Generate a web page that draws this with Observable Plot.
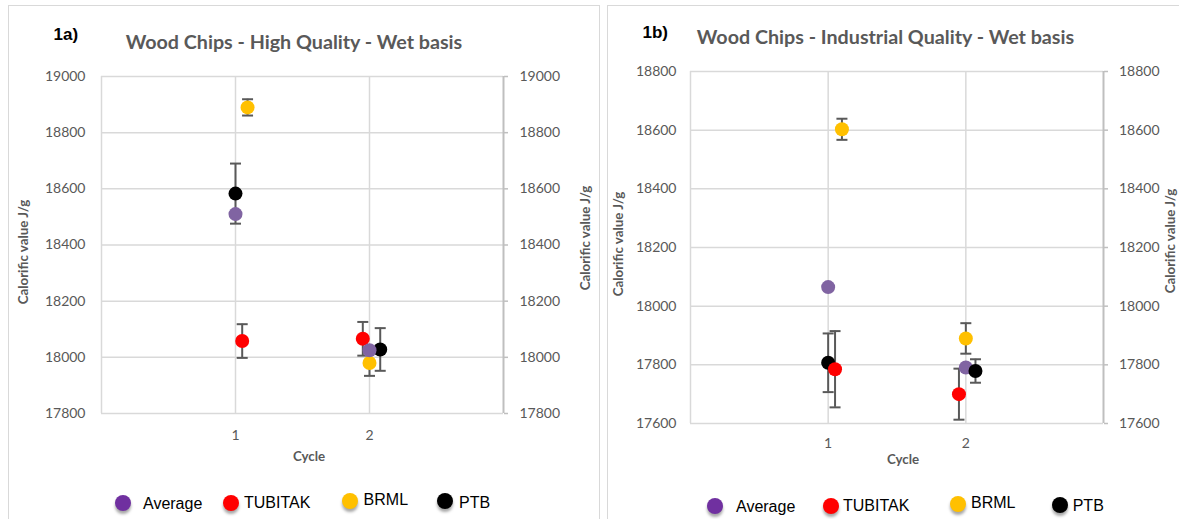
<!DOCTYPE html>
<html>
<head>
<meta charset="utf-8">
<script src="https://cdn.jsdelivr.net/npm/d3@7"></script>
<script src="https://cdn.jsdelivr.net/npm/@observablehq/plot@0.6"></script>
<style>
  html, body { margin: 0; padding: 0; background: #fff; }
  #root { position: relative; width: 1179px; height: 519px; overflow: hidden; background: #fff; }
  .panel { position: absolute; border: 1.5px solid #d9d9d9; box-sizing: border-box; }
  .t { position: absolute; white-space: nowrap; line-height: 1; }
  .c { transform: translate(-50%, -50%); }
  .rot { transform: translate(-50%, -50%) rotate(-90deg); }
  .panelTag { font-family: "Liberation Sans", Arial, sans-serif; font-weight: bold; font-size: 17px; color: #000; transform: translateY(-50%); }
  .title { font-family: Lato, sans-serif; font-weight: bold; font-size: 19.7px; color: #595959; }
  .axlab { font-family: Lato, sans-serif; font-weight: bold; font-size: 13.3px; color: #595959; }
  .legtext { font-family: "Liberation Sans", Arial, sans-serif; font-size: 16px; color: #000; transform: translateY(-50%); }
  .legdot { position: absolute; width: 16px; height: 16px; border-radius: 50%; transform: translate(-50%, -50%); box-shadow: 0 3px 3px rgba(0,0,0,0.35); }
  svg { position: absolute; }
</style>
</head>
<body>
<div id="root"></div>
<script>
// ---------- shared ----------
const seriesNames = ["Average", "TUBITAK", "BRML", "PTB"];
const seriesColors = ["#8064a2", "#ff0000", "#ffc000", "#000000"];
const legendColors = ["#7030a0", "#ff0000", "#ffc000", "#000000"];
const cycleTicks = [1, 2];
const cycleDomain = [0, 3];
const yLabel = "Calorific value J/g";
const xLabel = "Cycle";

// ---------- 1a) Wood Chips - High Quality - Wet basis ----------
const hqTag = "1a)";
const hqTitle = "Wood Chips - High Quality - Wet basis";
const hqTicks = [17800, 18000, 18200, 18400, 18600, 18800, 19000];
const hqAverageX = [1, 2];
const hqAverage = [18510, 18025];
const hqTubitakX = [1.05, 1.95];
const hqTubitak = [18058, 18066];
const hqTubitakU = [60, 60];
const hqBrmlX = [1.09, 2];
const hqBrml = [18890, 17980];
const hqBrmlU = [29, 46];
const hqPtbX = [1, 2.08];
const hqPtb = [18583, 18028];
const hqPtbU = [107, 76];

// ---------- 1b) Wood Chips - Industrial Quality - Wet basis ----------
const iqTag = "1b)";
const iqTitle = "Wood Chips - Industrial Quality - Wet basis";
const iqTicks = [17600, 17800, 18000, 18200, 18400, 18600, 18800];
const iqAverageX = [1, 2];
const iqAverage = [18065, 17791];
const iqTubitakX = [1.05, 1.95];
const iqTubitak = [17785, 17700];
const iqTubitakU = [130, 87];
const iqBrmlX = [1.1, 2];
const iqBrml = [18603, 17890];
const iqBrmlU = [36, 52];
const iqPtbX = [1, 2.07];
const iqPtb = [17807, 17779];
const iqPtbU = [100, 40];

// ---------- helpers ----------
const capSymbol = {
  draw(ctx, size) {
    const w = Math.sqrt(size / Math.PI);
    ctx.moveTo(-w, 0);
    ctx.lineTo(w, 0);
  }
};

function buildRows(series) {
  const pts = [], errs = [];
  for (const s of series) {
    s.x.forEach((x, i) => {
      const d = { name: s.name, x, v: s.v[i], u: s.u ? s.u[i] : null, color: s.color };
      pts.push(d);
      if (d.u != null) errs.push(d);
    });
  }
  return { pts, errs };
}

function chart(cfg) {
  const { pts, errs } = buildRows(cfg.series);
  const ticks = cfg.ticks;
  return Plot.plot({
    width: cfg.width,
    height: cfg.height,
    marginLeft: cfg.ml, marginRight: cfg.mr, marginTop: cfg.mt, marginBottom: cfg.mb,
    x: { domain: cycleDomain },
    y: { domain: [ticks[0], ticks[ticks.length - 1]] },
    color: { type: "identity" },
    style: { fontFamily: "Lato, sans-serif", fontSize: "14px", color: "#595959", background: "transparent", overflow: "visible" },
    marks: [
      Plot.gridY({ ticks, stroke: "#d9d9d9", strokeOpacity: 1, strokeWidth: 1.5 }),
      Plot.gridX({ ticks: [cycleDomain[0], ...cycleTicks], stroke: "#d9d9d9", strokeOpacity: 1, strokeWidth: 1.5 }),
      Plot.gridX({ ticks: [cycleDomain[1]], stroke: "#bfbfbf", strokeOpacity: 1, strokeWidth: 2 }),
      Plot.axisY({ anchor: "left", ticks, tickSize: 0, tickPadding: cfg.lpad, tickFormat: "d", label: null, fontSize: 14 }),
      Plot.axisY({ anchor: "right", ticks, tickSize: 4, tickPadding: cfg.rpad, tickFormat: "d", label: null, stroke: "#bfbfbf", strokeWidth: 1.5, fontSize: 14 }),
      Plot.axisX({ ticks: cycleTicks, tickSize: 0, tickPadding: cfg.xpad, tickFormat: "d", label: null, fontSize: 14 }),
      Plot.ruleX(errs, { x: "x", y1: d => d.v - d.u, y2: d => d.v + d.u, stroke: "#595959", strokeWidth: 2 }),
      Plot.dot(errs, { x: "x", y: d => d.v + d.u, symbol: capSymbol, r: 5.5, stroke: "#595959", strokeWidth: 2, fill: "none" }),
      Plot.dot(errs, { x: "x", y: d => d.v - d.u, symbol: capSymbol, r: 5.5, stroke: "#595959", strokeWidth: 2, fill: "none" }),
      Plot.dot(pts, { x: "x", y: "v", r: 7, fill: "color", stroke: "none" })
    ]
  });
}

const root = document.getElementById("root");
function addDiv(cls, text, x, y, extra) {
  const el = document.createElement("div");
  el.className = cls;
  if (text != null) el.textContent = text;
  el.style.left = x + "px";
  el.style.top = y + "px";
  if (extra) Object.assign(el.style, extra);
  root.appendChild(el);
  return el;
}

// ---------- panel frames ----------
addDiv("panel", null, 8, 4.5, { width: "592px", height: "540px" });
addDiv("panel", null, 607, 4.5, { width: "600px", height: "540px" });

// ---------- left chart ----------
const left = chart({
  width: 590, height: 514, ml: 92, mr: 96, mt: 71, mb: 106,
  ticks: hqTicks, lpad: 16, rpad: 12, xpad: 17,
  series: [
    { name: seriesNames[1], x: hqTubitakX, v: hqTubitak, u: hqTubitakU, color: seriesColors[1] },
    { name: seriesNames[2], x: hqBrmlX, v: hqBrml, u: hqBrmlU, color: seriesColors[2] },
    { name: seriesNames[3], x: hqPtbX, v: hqPtb, u: hqPtbU, color: seriesColors[3] },
    { name: seriesNames[0], x: hqAverageX, v: hqAverage, u: null, color: seriesColors[0] }
  ]
});
left.style.left = "9px"; left.style.top = "5px";
root.appendChild(left);

// ---------- right chart ----------
const right = chart({
  width: 571, height: 514, ml: 82, mr: 76, mt: 66, mb: 96,
  ticks: iqTicks, lpad: 14, rpad: 11.5, xpad: 15,
  series: [
    { name: seriesNames[0], x: iqAverageX, v: iqAverage, u: null, color: seriesColors[0] },
    { name: seriesNames[2], x: iqBrmlX, v: iqBrml, u: iqBrmlU, color: seriesColors[2] },
    { name: seriesNames[3], x: iqPtbX, v: iqPtb, u: iqPtbU, color: seriesColors[3] },
    { name: seriesNames[1], x: iqTubitakX, v: iqTubitak, u: iqTubitakU, color: seriesColors[1] }
  ]
});
right.style.left = "608px"; right.style.top = "5px";
root.appendChild(right);

// ---------- texts: left ----------
addDiv("t panelTag", hqTag, 53.5, 34);
addDiv("t title c", hqTitle, 294, 41.5);
addDiv("t axlab rot", yLabel, 24, 251.5);
addDiv("t axlab rot", yLabel, 585.5, 238);
addDiv("t axlab c", xLabel, 309, 457);

// ---------- texts: right ----------
addDiv("t panelTag", iqTag, 642.5, 31.5);
addDiv("t title c", iqTitle, 885.5, 37);
addDiv("t axlab rot", yLabel, 619, 244);
addDiv("t axlab rot", yLabel, 1170.5, 240.5);
addDiv("t axlab c", xLabel, 903, 459.5);

// ---------- legends ----------
const legLeft = [
  { dot: 123.3, dy: 503, text: 143, ty: 503.5 },
  { dot: 230.8, dy: 502.5, text: 244, ty: 502.5 },
  { dot: 350, dy: 501, text: 363.6, ty: 499.5 },
  { dot: 445, dy: 501, text: 459, ty: 503 }
];
const legRight = [
  { dot: 714.8, dy: 506, text: 736, ty: 506.5 },
  { dot: 830.8, dy: 506, text: 843, ty: 506 },
  { dot: 958.2, dy: 504, text: 971, ty: 503 },
  { dot: 1059.8, dy: 504.5, text: 1072.7, ty: 506 }
];
for (const leg of [legLeft, legRight]) {
  leg.forEach((p, i) => {
    addDiv("legdot", null, p.dot, p.dy, { background: legendColors[i] });
    addDiv("t legtext", seriesNames[i], p.text, p.ty);
  });
}
</script>
</body>
</html>
